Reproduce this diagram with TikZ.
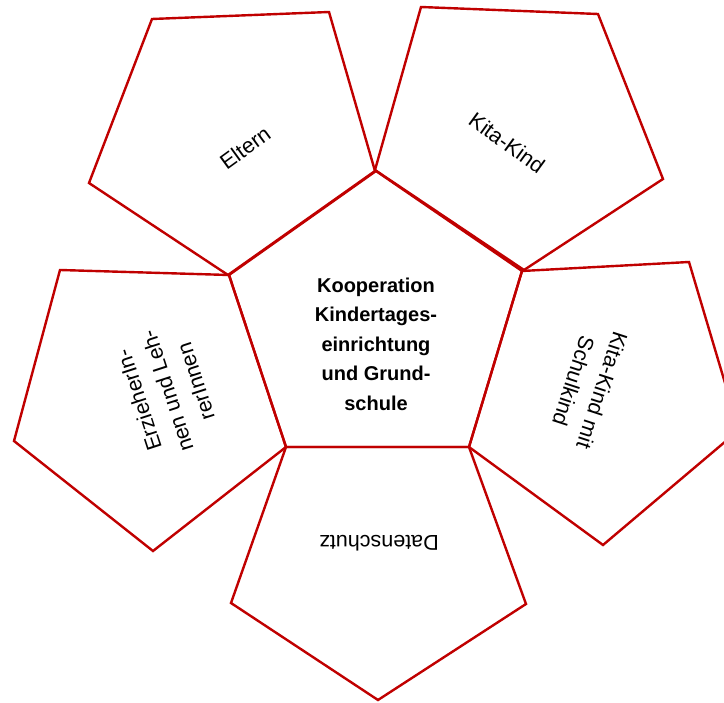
\documentclass[tikz,border=0pt]{standalone}
\usepackage{fontspec}
\setmainfont{Liberation Sans}
\definecolor{pentred}{HTML}{C00000}
\tikzset{
  pent/.style={draw=pentred,line width=2.4pt,line join=miter},
  lbl/.style={align=center,inner sep=0pt,font=\fontsize{21.5}{30}\selectfont},
  mid/.style={align=center,inner sep=0pt,font=\fontsize{20}{29.5}\selectfont\bfseries}
}
\begin{document}
\begin{tikzpicture}[x=1pt,y=-1pt]
    \useasboundingbox (0,0) rectangle (724,703);
    \clip (0,0) rectangle (724,703);
    % middle
    \draw[pent](376,171)--(522,271)--(469,447)--(286,447)--(229,275)--cycle;
    % outer faces
    \draw[pent](152,19)--(329,12)--(375,171)--(228,275)--(89,183)--cycle;
    \draw[pent](421,7)--(598,14)--(663,179)--(524,270)--(375,170)--cycle;
    \draw[pent](522,271)--(689,262)--(739,430)--(603,545)--(469,447)--cycle;
    \draw[pent](286,447)--(469,447)--(526,604)--(378,700)--(231,603)--cycle;
    \draw[pent](60,270)--(229,275)--(286,447)--(153,551)--(14,441)--cycle;
    % labels
    \node[mid] (koop) at (376,344){Kooperation\\Kindertages-\\einrichtung\\und Grund-\\schule};
    \node[lbl,rotate=36] (eltern) at (245,148){Eltern};
    \node[lbl,rotate=-36] (kind) at (507,143){Kita-Kind};
    \node[lbl,rotate=-108] (schulkind) at (588,386){Kita-Kind mit\\Schulkind};
    \node[lbl,rotate=180] (daten) at (379,543){Datenschutz};
    \node[lbl,rotate=108] (paed) at (167,391){ErzieherIn-\\nen und Leh-\\rerInnen};
  \end{tikzpicture}
\end{document}
